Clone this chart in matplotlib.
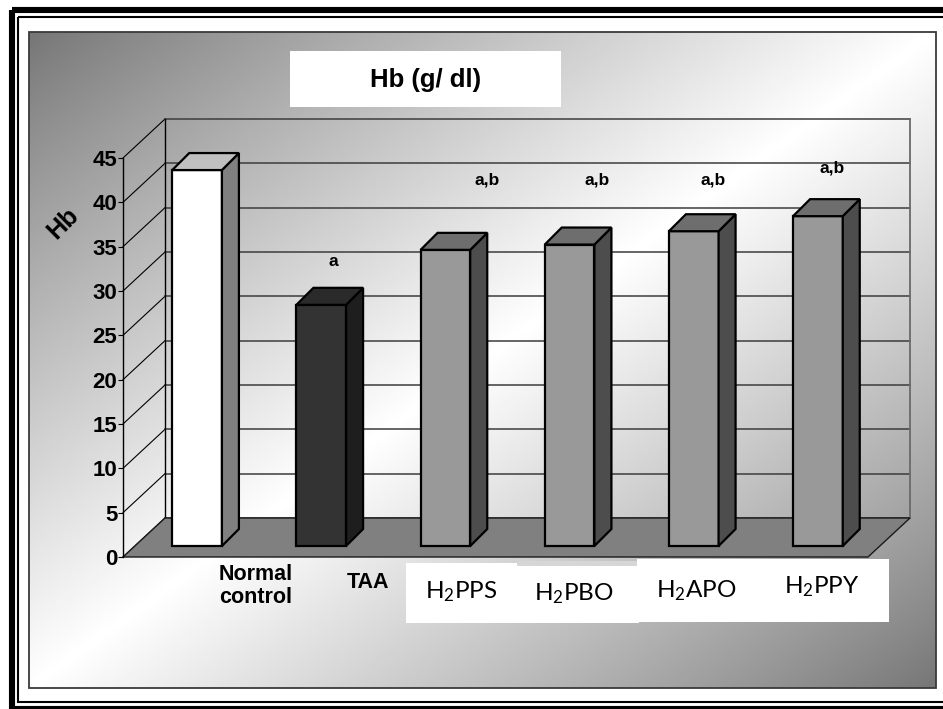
import numpy as np
import matplotlib
matplotlib.use("Agg")
import matplotlib.pyplot as plt
from matplotlib.patches import Rectangle, Polygon

# data
categories = ["Normal\ncontrol", "TAA", "H$_2$PPS", "H$_2$PBO", "H$_2$APO", "H$_2$PPY"]
hb_values = [42.4, 27.2, 33.4, 34.0, 35.5, 37.2]
sig_labels = ["", "a", "a,b", "a,b", "a,b", "a,b"]
yticks = list(range(0, 50, 5))

# colours of the 3d bars (front, side, top)
front_colors = ["#ffffff", "#333333", "#999999", "#999999", "#999999", "#999999"]
side_colors = ["#808080", "#1e1e1e", "#4d4d4d", "#4d4d4d", "#4d4d4d", "#4d4d4d"]
top_colors = ["#c0c0c0", "#2a2a2a", "#6e6e6e", "#6e6e6e", "#6e6e6e", "#6e6e6e"]

plt.rcParams["mathtext.fontset"] = "custom"
plt.rcParams["mathtext.rm"] = "Lato"
plt.rcParams["mathtext.it"] = "Lato"

W, H = 943, 709
fig = plt.figure(figsize=(W / 100, H / 100), dpi=100)

# background layer in pixel units: frame, gradient, title box
bg = fig.add_axes([0, 0, 1, 1])
bg.set_xlim(0, W)
bg.set_ylim(H, 0)
bg.axis("off")

gx = np.linspace(0, 1, 500)
gy = np.linspace(0, 1, 400)
t = (gx[None, :] + gy[:, None]) / 2
shade = 0.46 + 0.54 * (1 - np.abs(2 * t - 1)) ** 0.9
bg.imshow(shade, cmap="gray", vmin=0, vmax=1, extent=(29, 936, 688, 32),
          aspect="auto", interpolation="bilinear", zorder=0)
bg.add_patch(Rectangle((29, 32), 907, 656, fill=False, ec="#3a3a3a", lw=1.3, zorder=1))

bg.add_patch(Rectangle((12, 10), 950, 699, fill=False, ec="black", lw=4.4, zorder=2))
bg.add_patch(Rectangle((18, 17), 950, 685, fill=False, ec="black", lw=1.5, zorder=2))

bg.add_patch(Rectangle((290, 51), 271, 56, fc="white", ec="none", zorder=2))
bg.text(426, 80, "Hb (g/ dl)", ha="center", va="center", fontsize=18.5, fontweight="bold",
        family=["Liberation Sans Narrow", "Liberation Sans"], zorder=3)

# white boxes behind the compound names
bg.add_patch(Rectangle((406, 563), 111, 60, fc="white", ec="none", zorder=2))
bg.add_patch(Rectangle((517, 561), 120, 5, fc="#d6d6d6", ec="none", zorder=2))
bg.add_patch(Rectangle((517, 566), 122, 57, fc="white", ec="none", zorder=2))
bg.add_patch(Rectangle((637, 559), 252, 63, fc="white", ec="none", zorder=2))

# main chart: front plane, x in category units, y in Hb units
ax = fig.add_axes([123 / W, (H - 557) / H, 745 / W, 399 / H])
ax.set_xlim(0, 6)
ax.set_ylim(0, 45)
ax.patch.set_alpha(0)
n = len(categories)

SX = 745 / 6
SY = 399 / 45
floor_dx, floor_dy = 42 / SX, 39 / SY
bar_dx, bar_dy = 12 / SX, 11 / SY
depth_dx, depth_dy = 17 / SX, 17 / SY
bar_w = 0.4

# side wall and back wall gridlines
for v in yticks:
    ax.plot([0, floor_dx], [v, v + floor_dy], color="black", lw=0.8, clip_on=False, zorder=1)
    ax.plot([floor_dx, n + floor_dx], [v + floor_dy, v + floor_dy], color="#3c3c3c",
            lw=1.1, clip_on=False, zorder=1)
ax.plot([floor_dx, floor_dx], [floor_dy, 45 + floor_dy], color="black", lw=1.0, clip_on=False, zorder=1)
ax.plot([n + floor_dx, n + floor_dx], [floor_dy, 45 + floor_dy], color="#6a6a6a", lw=1.3,
        clip_on=False, zorder=1)

# floor
ax.add_patch(Polygon([(0, 0), (n, 0), (n + floor_dx, floor_dy), (floor_dx, floor_dy)],
                     closed=True, fc="#808080", ec="#1a1a1a", lw=1.0, clip_on=False, zorder=2))

# bars
for i, v in enumerate(hb_values):
    x0 = i + 0.5 - bar_w / 2 + bar_dx
    y0 = bar_dy
    x1 = x0 + bar_w
    style = dict(ec="black", lw=1.6, joinstyle="miter", clip_on=False, zorder=3)
    ax.add_patch(Rectangle((x0, y0), bar_w, v, fc=front_colors[i], **style))
    ax.add_patch(Polygon([(x1, y0), (x1 + depth_dx, y0 + depth_dy),
                          (x1 + depth_dx, y0 + v + depth_dy), (x1, y0 + v)],
                         closed=True, fc=side_colors[i], **style))
    ax.add_patch(Polygon([(x0, y0 + v), (x1, y0 + v), (x1 + depth_dx, y0 + v + depth_dy),
                          (x0 + depth_dx, y0 + v + depth_dy)],
                         closed=True, fc=top_colors[i], **style))

# significance letters
sig_height = [0, 33.3, 42.5, 42.5, 42.5, 43.9]
sig_shift = [0, 24, 54, 40, 31, 26]
for i, lab in enumerate(sig_labels):
    if lab:
        ax.annotate(lab, xy=(i + 0.5, sig_height[i]), xytext=(sig_shift[i], 0),
                    textcoords="offset pixels", ha="center", va="center",
                    fontsize=12.5, fontweight="bold", family="Liberation Sans",
                    annotation_clip=False)

# category names
name_shift = [(71, -29), (59, -26), (28, -35), (16, -37), (14, -34), (16, -30)]
for i, cat in enumerate(categories):
    if i < 2:
        kw = dict(fontsize=15.5, fontweight="bold", family="Liberation Sans", linespacing=1.15)
    else:
        kw = dict(fontsize=17.5, family="Lato")
    ax.annotate(cat, xy=(i + 0.5, 0), xytext=name_shift[i], textcoords="offset pixels",
                ha="center", va="center", annotation_clip=False, zorder=4, **kw)

# value axis
ax.set_xticks([])
ax.set_yticks(yticks)
ax.tick_params(axis="y", length=3.6, width=0.8, pad=0.5, labelsize=16)
for lab in ax.get_yticklabels():
    lab.set_fontweight("bold")
    lab.set_family("Liberation Sans")
for side in ["top", "right", "bottom"]:
    ax.spines[side].set_visible(False)
ax.spines["left"].set_linewidth(1.0)
ax.text(-60 / 745, 334 / 399, "Hb", transform=ax.transAxes, rotation=45,
        ha="center", va="center", fontsize=18, fontweight="bold", family="Liberation Sans")

fig.savefig("out.png", dpi=100)
